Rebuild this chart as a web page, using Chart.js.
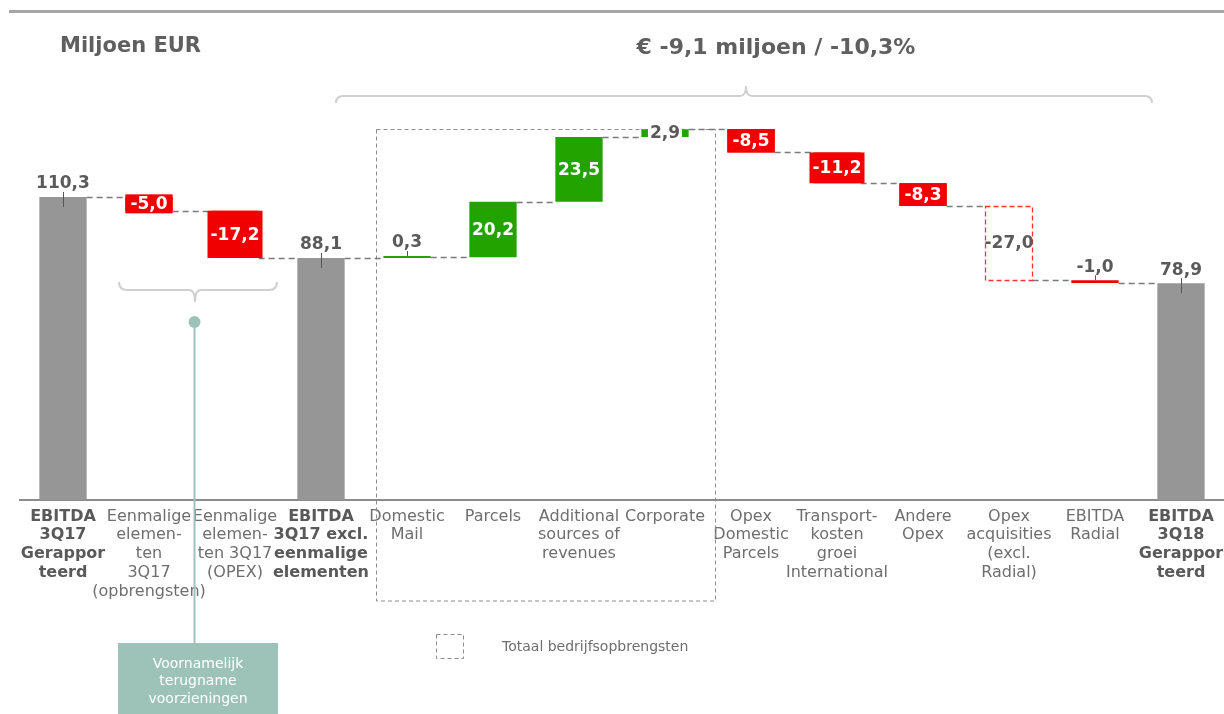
<!DOCTYPE html>
<html><head><meta charset="utf-8">
<script src="https://cdn.jsdelivr.net/npm/chart.js@4/dist/chart.umd.min.js"></script>
<style>html,body{margin:0;padding:0;background:#fff}#wrap{width:1224px;height:714px;position:relative}</style>
</head><body><div id="wrap"><canvas id="c"></canvas></div>
<script>
// ---- data ----
const categories = [
  ['EBITDA','3Q17','Gerappor','teerd'],
  ['Eenmalige','elemen-','ten','3Q17','(opbrengsten)'],
  ['Eenmalige','elemen-','ten 3Q17','(OPEX)'],
  ['EBITDA','3Q17 excl.','eenmalige','elementen'],
  ['Domestic','Mail'],
  ['Parcels'],
  ['Additional','sources of','revenues'],
  ['Corporate'],
  ['Opex','Domestic','Parcels'],
  ['Transport-','kosten','groei','International'],
  ['Andere','Opex'],
  ['Opex','acquisities','(excl.','Radial)'],
  ['EBITDA','Radial'],
  ['EBITDA','3Q18','Gerappor','teerd']
];
const values = [110.3, -5.0, -17.2, 88.1, 0.3, 20.2, 23.5, 2.9, -8.5, -11.2, -8.3, -27.0, -1.0, 78.9];
const kinds = ['total','delta','delta','total','delta','delta','delta','delta','delta','delta','delta','delta','delta','total'];
const valueLabels = ['110,3','-5,0','-17,2','88,1','0,3','20,2','23,5','2,9','-8,5','-11,2','-8,3','-27,0','-1,0','78,9'];
const boldCategories = [0, 3, 13];
const titleText = 'Miljoen EUR';
const changeText = '€ -9,1 miljoen / -10,3%';
const legendText = 'Totaal bedrijfsopbrengsten';
const noteLines = ['Voornamelijk','terugname','voorzieningen'];

// ---- derived ----
const ranges = [], levels = [];
let run = 0;
values.forEach((v, i) => {
  if (kinds[i] === 'total') { ranges.push([0, v]); run = v; }
  else { const s = run; run = Math.round((run + v) * 10) / 10; ranges.push([s, run]); }
  levels.push(run);
});
const outlinedIndex = 11;          // acquisitions: dashed outline
const revenueGroup = [4, 7];       // dashed group box
const RED = '#f00000', GREEN = '#22a300', GRAY = '#969696', TXT = '#5a5a5a';
const FONT = '"DejaVu Sans", Verdana, sans-serif';
const colors = values.map((v, i) => kinds[i] === 'total' ? GRAY : (i === outlinedIndex ? 'rgba(0,0,0,0)' : (v > 0 ? GREEN : RED)));

const wf = {
  id: 'wf',
  afterDraw(chart) {
    const { ctx, scales: { x, y } } = chart;
    const els = chart.getDatasetMeta(0).data;
    ctx.save();
    // header line
    ctx.fillStyle = '#a6a6a6';
    ctx.fillRect(9, 10, 1215, 3);
    // titles
    ctx.fillStyle = '#5f5f5f';
    ctx.textBaseline = 'middle';
    ctx.textAlign = 'left';
    ctx.font = 'bold 21px ' + FONT;
    ctx.fillText(titleText, 60, 47);
    ctx.textAlign = 'center';
    ctx.font = 'bold 22px ' + FONT;
    ctx.fillText(changeText, 776, 48);
    // top brace
    ctx.strokeStyle = '#d0d0d0'; ctx.lineWidth = 2; ctx.setLineDash([]);
    const bx1 = x.getPixelForValue(3) + 15, bx2 = x.getPixelForValue(12) + 57, bmid = 746;
    ctx.beginPath();
    ctx.moveTo(bx1, 103); ctx.quadraticCurveTo(bx1, 96, bx1 + 7, 96);
    ctx.lineTo(bmid - 6, 96); ctx.quadraticCurveTo(bmid, 96, bmid, 86);
    ctx.quadraticCurveTo(bmid, 96, bmid + 6, 96);
    ctx.lineTo(bx2 - 7, 96); ctx.quadraticCurveTo(bx2, 96, bx2, 103);
    ctx.stroke();
    // lower brace
    const lx1 = x.getPixelForValue(1) - 30, lx2 = x.getPixelForValue(2) + 42, lm = 195;
    ctx.beginPath();
    ctx.moveTo(lx1, 282); ctx.quadraticCurveTo(lx1, 290, lx1 + 8, 290);
    ctx.lineTo(lm - 6, 290); ctx.quadraticCurveTo(lm, 290, lm, 302);
    ctx.quadraticCurveTo(lm, 290, lm + 6, 290);
    ctx.lineTo(lx2 - 8, 290); ctx.quadraticCurveTo(lx2, 290, lx2, 282);
    ctx.stroke();
    // note callout
    ctx.strokeStyle = '#9dc3b9'; ctx.fillStyle = '#9dc3b9'; ctx.lineWidth = 2;
    ctx.beginPath(); ctx.moveTo(194.5, 322); ctx.lineTo(194.5, 643); ctx.stroke();
    ctx.beginPath(); ctx.arc(194.5, 322, 6, 0, Math.PI * 2); ctx.fill();
    ctx.fillRect(118, 643, 160, 71);
    ctx.fillStyle = '#ffffff'; ctx.font = '14px ' + FONT; ctx.textAlign = 'center';
    noteLines.forEach((t, k) => ctx.fillText(t, 198, 664 + k * 17.5));
    // group dashed box
    ctx.strokeStyle = '#8c8c8c'; ctx.lineWidth = 1; ctx.setLineDash([4, 3]);
    const gx1 = Math.round(x.getPixelForValue(revenueGroup[0]) - 31) + 0.5;
    const gx2 = Math.round(x.getPixelForValue(revenueGroup[1]) + 50) + 0.5;
    const gy1 = Math.round(y.getPixelForValue(levels[revenueGroup[1]])) + 0.5;
    ctx.strokeRect(gx1, gy1, gx2 - gx1, 601 - gy1);
    // legend
    ctx.strokeRect(436.5, 634.5, 27, 24);
    ctx.setLineDash([]);
    ctx.fillStyle = '#6e6e6e'; ctx.font = '14px ' + FONT; ctx.textAlign = 'left';
    ctx.fillText(legendText, 502, 647);
    // connectors
    ctx.strokeStyle = '#7a7a7a'; ctx.lineWidth = 1.5; ctx.setLineDash([6, 4]);
    for (let i = 0; i < els.length - 1; i++) {
      const a = els[i], b = els[i + 1];
      const yy = Math.round(y.getPixelForValue(levels[i])) + 0.5;
      ctx.beginPath(); ctx.moveTo(a.x + a.width / 2, yy); ctx.lineTo(b.x - b.width / 2, yy); ctx.stroke();
    }
    // outlined bar
    {
      const e = els[outlinedIndex];
      const t = Math.min(e.y, e.base), bt = Math.max(e.y, e.base);
      ctx.strokeStyle = '#ff3030'; ctx.lineWidth = 1.3; ctx.setLineDash([5, 3]);
      ctx.strokeRect(Math.round(e.x - e.width / 2) + 0.5, Math.round(t) + 0.5, Math.round(e.width), Math.round(bt - t));
    }
    ctx.setLineDash([]);
    // value labels
    ctx.font = 'bold 17px ' + FONT; ctx.textAlign = 'center'; ctx.textBaseline = 'middle';
    els.forEach((e, i) => {
      const v = values[i], lab = valueLabels[i];
      const t = Math.min(e.y, e.base), bt = Math.max(e.y, e.base), h = bt - t, cy = (t + bt) / 2;
      const tw = ctx.measureText(lab).width;
      if (kinds[i] === 'total' || Math.abs(v) < 2) {
        ctx.fillStyle = TXT; ctx.fillText(lab, e.x, t - 13);
        ctx.strokeStyle = '#555'; ctx.lineWidth = 1;
        ctx.beginPath(); ctx.moveTo(Math.round(e.x) + 0.5, t - 5);
        ctx.lineTo(Math.round(e.x) + 0.5, kinds[i] === 'total' ? t + 10 : t); ctx.stroke();
      } else if (i === outlinedIndex) {
        ctx.fillStyle = TXT; ctx.fillText(lab, e.x, cy);
      } else if (v > 0 && h < 15) {
        ctx.fillStyle = '#fff'; ctx.fillRect(e.x - (tw + 4) / 2, t - 1, tw + 4, h + 2);
        ctx.fillStyle = TXT; ctx.fillText(lab, e.x, cy);
      } else if (v < 0) {
        const w = Math.max(e.width, tw + 6), hh = Math.max(h, 19);
        ctx.fillStyle = RED; ctx.fillRect(e.x - w / 2, cy - hh / 2, w, hh);
        ctx.fillStyle = '#fff'; ctx.fillText(lab, e.x, cy + 1);
      } else {
        ctx.fillStyle = '#fff'; ctx.fillText(lab, e.x, cy + 1);
      }
    });
    ctx.restore();
  }
};

new Chart(document.getElementById('c'), {
  type: 'bar',
  data: {
    labels: categories,
    datasets: [{ data: ranges, backgroundColor: colors, borderWidth: 0, minBarLength: 2,
      barPercentage: 0.55, categoryPercentage: 1 }]
  },
  options: {
    responsive: true, maintainAspectRatio: false, animation: false,
    layout: { padding: { left: 20, right: 0, top: 0, bottom: 0 } },
    plugins: { legend: { display: false }, tooltip: { enabled: false } },
    scales: {
      y: { display: false, min: 0, max: 182 },
      x: {
        grid: { display: false, drawTicks: false },
        border: { display: true, color: '#8c8c8c', width: 2 },
        ticks: {
          autoSkip: false, maxRotation: 0, minRotation: 0, padding: 7,
          color: c => boldCategories.includes(c.index) ? '#595959' : '#6e6e6e',
          font: c => ({ family: FONT, size: 16, lineHeight: 1.18, weight: boldCategories.includes(c.index) ? 'bold' : 'normal' })
        },
        afterFit: s => { s.height = 214; s.paddingLeft = 0; s.paddingRight = 0; }
      }
    }
  },
  plugins: [wf]
});
</script></body></html>
